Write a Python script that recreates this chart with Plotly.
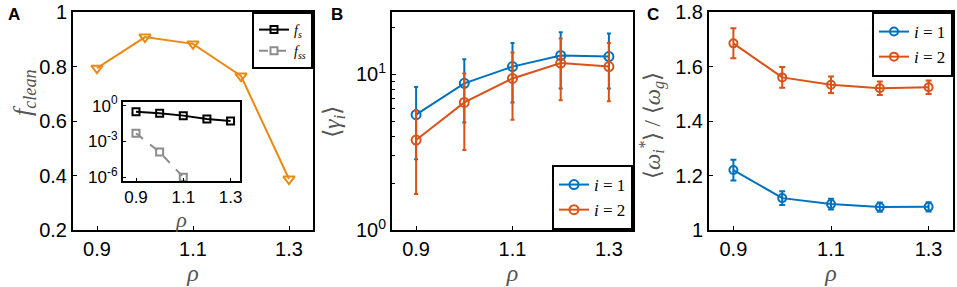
import plotly.graph_objects as go

rho = [0.9, 1.0, 1.1, 1.2, 1.3]
x_ticks = [0.9, 1.1, 1.3]

# Panel A
f_clean = [0.794, 0.908, 0.883, 0.765, 0.387]
f_s = [0.31, 0.23, 0.145, 0.076, 0.052]
rho_ss = [0.9, 1.0, 1.1]
f_ss = [4.9e-3, 1.3e-4, 1.05e-6]

# Panel B (mean, upper, lower)
gamma1 = [5.5, 8.75, 11.2, 13.2, 13.0]
gamma1_hi = [8.3, 12.5, 15.9, 18.6, 18.3]
gamma1_lo = [2.85, 4.9, 6.6, 8.1, 8.1]
gamma2 = [3.78, 6.6, 9.4, 11.8, 11.2]
gamma2_hi = [5.9, 10.1, 13.8, 17.0, 15.9]
gamma2_lo = [1.7, 3.26, 5.1, 6.8, 6.7]

# Panel C
omega1 = [1.22, 1.117, 1.095, 1.084, 1.085]
omega1_err = [0.038, 0.025, 0.02, 0.017, 0.017]
omega2 = [1.685, 1.56, 1.533, 1.52, 1.524]
omega2_err = [0.055, 0.038, 0.03, 0.025, 0.025]

BLUE = "#0072BD"
RED = "#D95319"
ORANGE = "#E98A15"
GRAY = "#8C8C8C"
TXT = "#555555"

H = 287
W = 957
def dx(a, b):
    return [a / W, b / W]
def dy(top, bot):
    return [1 - bot / H, 1 - top / H]

fig = go.Figure()

# A main
fig.add_trace(go.Scatter(x=rho, y=f_clean, mode="lines+markers", showlegend=False,
                         line=dict(color=ORANGE, width=2),
                         marker=dict(symbol="triangle-down-open", size=10, color=ORANGE, line=dict(width=2)),
                         xaxis="x", yaxis="y"))
# A inset
fig.add_trace(go.Scatter(x=rho, y=f_s, mode="lines+markers", name="<i>f<sub>s</sub></i>",
                         line=dict(color="black", width=2),
                         marker=dict(symbol="square-open", size=7, color="black", line=dict(width=2)),
                         xaxis="x4", yaxis="y4", legend="legend"))
fig.add_trace(go.Scatter(x=rho_ss, y=f_ss, mode="lines+markers", name="<i>f<sub>ss</sub></i>",
                         line=dict(color=GRAY, width=2, dash="dash"),
                         marker=dict(symbol="square-open", size=7, color=GRAY, line=dict(width=2)),
                         xaxis="x4", yaxis="y4", legend="legend"))

# B
def asym(mean, hi, lo):
    return [h - m for h, m in zip(hi, mean)], [m - l for m, l in zip(mean, lo)]

p1, m1 = asym(gamma1, gamma1_hi, gamma1_lo)
p2, m2 = asym(gamma2, gamma2_hi, gamma2_lo)
fig.add_trace(go.Scatter(x=rho, y=gamma1, mode="lines+markers", name="<i>i</i> = 1",
                         line=dict(color=BLUE, width=2),
                         marker=dict(symbol="circle-open", size=9, color=BLUE, line=dict(width=2)),
                         error_y=dict(type="data", symmetric=False, array=p1, arrayminus=m1,
                                      color=BLUE, thickness=2, width=2),
                         xaxis="x2", yaxis="y2", legend="legend2"))
fig.add_trace(go.Scatter(x=rho, y=gamma2, mode="lines+markers", name="<i>i</i> = 2",
                         line=dict(color=RED, width=2),
                         marker=dict(symbol="circle-open", size=9, color=RED, line=dict(width=2)),
                         error_y=dict(type="data", symmetric=False, array=p2, arrayminus=m2,
                                      color=RED, thickness=2, width=2),
                         xaxis="x2", yaxis="y2", legend="legend2"))

# C
fig.add_trace(go.Scatter(x=rho, y=omega1, mode="lines+markers", name="<i>i</i> = 1",
                         line=dict(color=BLUE, width=2),
                         marker=dict(symbol="circle-open", size=8, color=BLUE, line=dict(width=2)),
                         error_y=dict(type="data", array=omega1_err, color=BLUE, thickness=2, width=3),
                         xaxis="x3", yaxis="y3", legend="legend3"))
fig.add_trace(go.Scatter(x=rho, y=omega2, mode="lines+markers", name="<i>i</i> = 2",
                         line=dict(color=RED, width=2),
                         marker=dict(symbol="circle-open", size=8, color=RED, line=dict(width=2)),
                         error_y=dict(type="data", array=omega2_err, color=RED, thickness=2, width=3),
                         xaxis="x3", yaxis="y3", legend="legend3"))

tickfont = dict(family="Liberation Sans, Arial", size=20, color="black")
axcommon = dict(showline=True, mirror=True, linecolor="black", linewidth=2,
                ticks="inside", ticklen=4, tickcolor="black", tickwidth=1,
                showgrid=False, zeroline=False, tickfont=tickfont, automargin=False)
rho_title = dict(text="<i>ρ</i>", font=dict(family="Liberation Serif", size=24, color=TXT), standoff=0)

fig.update_layout(
    width=W, height=H, margin=dict(l=0, r=0, t=0, b=0, autoexpand=False),
    paper_bgcolor="white", plot_bgcolor="white",
    xaxis=dict(domain=dx(73, 313), range=[0.85, 1.35], tickvals=x_ticks, ticktext=["0.9", "1.1", "1.3"],
               anchor="y", title=rho_title, **axcommon),
    yaxis=dict(domain=dy(12, 230), range=[0.2, 1.0], tickvals=[0.2, 0.4, 0.6, 0.8, 1.0],
               ticktext=["0.2", "0.4", "0.6", "0.8", "1"], anchor="x", **axcommon),
    xaxis2=dict(domain=dx(392, 633), range=[0.85, 1.35], tickvals=x_ticks, ticktext=["0.9", "1.1", "1.3"],
                anchor="y2", title=rho_title, **axcommon),
    yaxis2=dict(domain=dy(12, 230), type="log", range=[0, 1.4], tickvals=[1, 10],
                ticktext=["10<sup>0</sup>", "10<sup>1</sup>"], anchor="x2",
                minor=dict(ticks="inside", ticklen=3, tickcolor="black",
                           tickvals=[2, 3, 4, 5, 6, 7, 8, 9, 20]),
                **axcommon),
    xaxis3=dict(domain=dx(709, 953), range=[0.85, 1.35], tickvals=x_ticks, ticktext=["0.9", "1.1", "1.3"],
                anchor="y3", title=rho_title, **axcommon),
    yaxis3=dict(domain=dy(12, 230), range=[1.0, 1.8], tickvals=[1.0, 1.2, 1.4, 1.6, 1.8],
                ticktext=["1", "1.2", "1.4", "1.6", "1.8"], anchor="x3", **axcommon),
    xaxis4=dict(domain=dx(123, 240), range=[0.845, 1.34], tickvals=x_ticks, ticktext=["0.9", "1.1", "1.3"],
                anchor="y4", showline=True, mirror=True, linecolor="black", linewidth=2,
                ticks="inside", ticklen=3, tickcolor="black", showgrid=False, zeroline=False, automargin=False,
                tickfont=dict(family="Liberation Sans, Arial", size=17, color="black"),
                title=dict(text="<i>ρ</i>", font=dict(family="Liberation Serif", size=22, color=TXT), standoff=0)),
    yaxis4=dict(domain=dy(102, 181), type="log", range=[-6.3, 0.3], tickvals=[1, 1e-3, 1e-6],
                ticktext=["10<sup>0</sup>", "10<sup>-3</sup>", "10<sup>-6</sup>"],
                anchor="x4", showline=True, mirror=True, linecolor="black", linewidth=2,
                ticks="inside", ticklen=3, tickcolor="black", showgrid=False, zeroline=False, automargin=False,
                tickfont=dict(family="Liberation Sans, Arial", size=17, color="black")),
    legend=dict(x=313 / W, y=1 - 12 / H, xanchor="right", yanchor="top",
                bordercolor="black", borderwidth=2, bgcolor="white",
                font=dict(family="Liberation Serif", size=14, color="black"),
                tracegroupgap=0, itemwidth=30),
    legend2=dict(x=633 / W, y=1 - 230 / H, xanchor="right", yanchor="bottom",
                 bordercolor="black", borderwidth=2, bgcolor="white",
                 font=dict(family="Liberation Serif", size=17, color="black"),
                 tracegroupgap=0, itemwidth=30),
    legend3=dict(x=953 / W, y=1 - 12 / H, xanchor="right", yanchor="top",
                 bordercolor="black", borderwidth=2, bgcolor="white",
                 font=dict(family="Liberation Serif", size=17, color="black"),
                 tracegroupgap=0, itemwidth=30),
)

# y-axis titles
ytitles = [
    ("<i>f<sub>clean</sub></i>", 24, 93, 26),
    ("⟨<i>γ<sub>i</sub></i>⟩", 334, 122, 24),
    ("⟨<i>ω<sub>i</sub><sup>*</sup></i>⟩ / ⟨<i>ω<sub>g</sub></i>⟩", 652, 126, 23),
]
for txt, px, py, fs in ytitles:
    fig.add_annotation(text=txt, x=px / W, y=1 - py / H, xref="paper", yref="paper",
                       showarrow=False, textangle=-90, xanchor="center", yanchor="middle",
                       font=dict(family="Liberation Serif", size=fs, color=TXT))

for lbl, px in [("A", 14), ("B", 337), ("C", 653)]:
    fig.add_annotation(text=f"<b>{lbl}</b>", x=px / W, y=1 - 14 / H, xref="paper", yref="paper",
                       showarrow=False, xanchor="center", yanchor="middle",
                       font=dict(family="Liberation Sans, Arial", size=17, color="black"))

fig.write_html("out.html", config={"displayModeBar": False},
               post_script="document.body.style.margin='0';document.body.style.overflow='hidden';")
